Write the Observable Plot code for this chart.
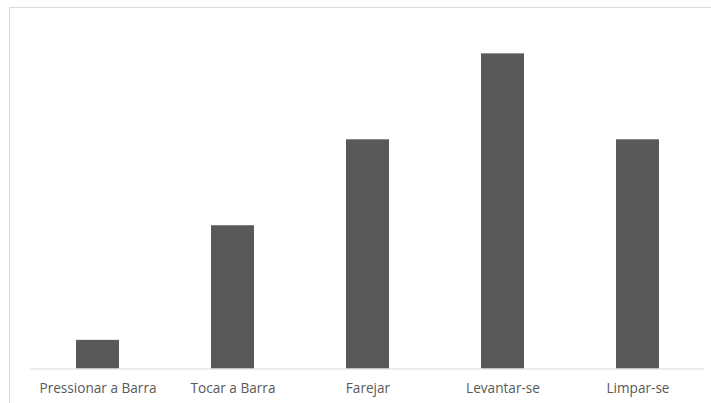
<!DOCTYPE html>
<html>
<head>
<meta charset="utf-8">
<script src="https://cdn.jsdelivr.net/npm/d3@7"></script>
<script src="https://cdn.jsdelivr.net/npm/@observablehq/plot@0.6"></script>
<style>
  html, body { margin: 0; padding: 0; background: #fff; }
  #wrap { position: relative; width: 711px; height: 403px; overflow: hidden; }
  #frame {
    position: absolute; left: 9px; top: 7px; width: 720px; height: 420px;
    border-left: 1.5px solid #d9d9d9; border-top: 1.5px solid #d9d9d9;
    pointer-events: none;
  }
</style>
</head>
<body>
<div id="wrap"><div id="frame"></div></div>
<script>
// Behaviour categories and their counts
const categories = ["Pressionar a Barra", "Tocar a Barra", "Farejar", "Levantar-se", "Limpar-se"];
const values = [1, 5, 8, 11, 8];

const data = categories.map((c, i) => ({category: c, value: values[i]}));

const chart = Plot.plot({
  width: 711,
  height: 403,
  marginLeft: 29.5,
  marginRight: 6.5,
  marginTop: 24.7,
  marginBottom: 34.5,
  style: {fontFamily: "'Open Sans', 'Liberation Sans', sans-serif", fontSize: "13.6px", color: "#595959", background: "transparent"},
  x: {domain: categories, paddingInner: 0.684, paddingOuter: 0.342, label: null},
  y: {domain: [0, 12], axis: null},
  marks: [
    Plot.barY(data, {x: "category", y: "value", fill: "#595959"}),
    Plot.ruleY([0], {stroke: "#d9d9d9", strokeWidth: 1.2}),
    Plot.axisX({tickSize: 0, tickPadding: 14, label: null, fill: "#595959"})
  ]
});
document.getElementById("wrap").prepend(chart);
chart.style.position = "absolute";
chart.style.left = "0";
chart.style.top = "0";
</script>
</body>
</html>
